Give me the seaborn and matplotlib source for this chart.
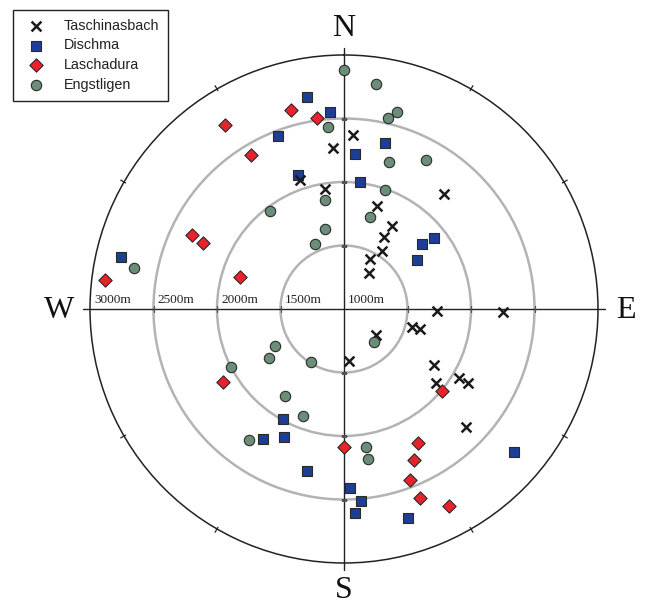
import numpy as np
import pandas as pd
import matplotlib
matplotlib.use("Agg")
import matplotlib.pyplot as plt
import seaborn as sns

# Aspect (degrees from north, clockwise) and elevation (m) of each site
tasch_az = [356, 341, 351, 3, 41, 18, 30, 29, 33, 28, 35, 91, 91, 105, 105, 129, 175, 122, 129, 121, 121, 134]
tasch_el = [2270, 2075, 1958, 2371, 2202, 1849, 1758, 1650, 1544, 1442, 1344, 1731, 2252, 1555, 1618,
            1327, 1412, 1835, 1931, 2058, 2138, 2333]

dischma_az = [350, 356, 339, 341, 283, 14, 4, 7, 52, 50, 56, 130, 178, 175, 177, 163, 209, 212, 205, 193]
dischma_el = [2692, 2557, 2460, 2112, 2803, 2348, 2220, 2004, 1902, 1800, 1695, 2747, 2410, 2514, 2606,
              2718, 1993, 2205, 2112, 2311]

lasch_az = [345, 352, 327, 329, 296, 295, 287, 277, 130, 180, 151, 155, 159, 158, 152, 239]
lasch_el = [2619, 2516, 2723, 2416, 2331, 2223, 1857, 2897, 2006, 2086, 2205, 2311, 2446, 2607, 2756, 2110]

engst_az = [0, 355, 350, 323, 347, 336, 281, 8, 15, 13, 17, 29, 19, 16, 138, 171, 171, 242, 237, 212,
            243, 214, 201, 216]
engst_el = [2885, 2435, 1870, 1968, 1650, 1560, 2688, 2786, 2609, 2546, 2209, 2339, 1990, 1755, 1350,
            2099, 2192, 1615, 1702, 1494, 2001, 1824, 1899, 2279]

ring_levels = [1500, 2000, 2500]
ring_labels = ["3000m", "2500m", "2000m", "1500m", "1000m"]
ring_label_values = [3000, 2500, 2000, 1500, 1000]
compass = ["N", "E", "S", "W"]

sns.set_theme(style="white")
plt.rcParams["font.family"] = ["Liberation Sans", "DejaVu Sans"]

W, H = 645, 604
fig = plt.figure(figsize=(W / 100, H / 100), dpi=100)
fig.patch.set_facecolor("white")

cx, cy, R = 344, 309, 254
ax = fig.add_axes([(cx - R) / W, (H - cy - R) / H, 2 * R / W, 2 * R / H], projection="polar")
ax.set_theta_zero_location("N")
ax.set_theta_direction(-1)
ax.set_facecolor("white")

series = [
    ("Dischma", dischma_az, dischma_el, dict(marker="s", color="#1d3e96", edgecolor="#2a2a2a", s=44, linewidth=0.8), 3),
    ("Taschinasbach", tasch_az, tasch_el, dict(marker="x", color="#1a1a1a", s=50, linewidth=1.8), 4),
    ("Laschadura", lasch_az, lasch_el, dict(marker="D", color="#e8222a", edgecolor="#2a2a2a", s=46, linewidth=0.8), 5),
    ("Engstligen", engst_az, engst_el, dict(marker="o", color="#6b8e78", edgecolor="#2a2a2a", s=56, linewidth=0.8), 6),
]

for name, az, el, style, z in series:
    df = pd.DataFrame({"theta": np.deg2rad(az), "elev": el})
    sns.scatterplot(data=df, x="theta", y="elev", ax=ax, label=name, zorder=z, clip_on=False, **style)

ax.set_ylim(1000, 3000)
ax.set_xlabel("")
ax.set_ylabel("")
ax.set_xticks([])
ax.set_yticks(ring_levels)
ax.set_yticklabels([])
ax.yaxis.grid(True, color="#b3b3b3", linewidth=1.8)
ax.xaxis.grid(False)
ax.spines["polar"].set_color("#222222")
ax.spines["polar"].set_linewidth(1.1)
ax.tick_params(length=0)

# cross through the centre, slightly overshooting the outer circle
for th in (0, 90, 180, 270):
    ax.plot([np.deg2rad(th)] * 2, [1000, 3055], color="#222222", lw=1.0, zorder=2, clip_on=False)
    mk = "_" if th in (0, 180) else "|"
    ax.plot([np.deg2rad(th)] * len(ring_levels), ring_levels, linestyle="none", marker=mk,
            markersize=5, markeredgewidth=0.9, color="#555555", zorder=2)

# short ticks on the outer circle every 30 degrees
for th in range(30, 360, 30):
    if th % 90 == 0:
        continue
    ax.plot([np.deg2rad(th)] * 2, [2985, 3030], color="#222222", lw=0.9, zorder=2, clip_on=False)

# elevation labels along the western axis
for txt, val in zip(ring_labels, ring_label_values):
    ax.annotate(txt, xy=(np.deg2rad(270), val), xytext=(4, 3), textcoords="offset pixels",
                ha="left", va="bottom", fontsize=9.5, family=["Liberation Serif", "DejaVu Serif"],
                color="#222222", zorder=7)

# compass letters
for txt, (px, py) in zip(compass, [(344, 28), (626, 310), (344, 591), (59, 310)]):
    fig.text(px / W, 1 - py / H, txt, ha="center", va="center", fontsize=23,
             family=["Liberation Serif", "DejaVu Serif"], color="#111111")

handles, labels = ax.get_legend_handles_labels()
order = ["Taschinasbach", "Dischma", "Laschadura", "Engstligen"]
hl = dict(zip(labels, handles))
if ax.get_legend() is not None:
    ax.get_legend().remove()
leg = fig.legend([hl[k] for k in order], order, loc="upper left",
                 bbox_to_anchor=(13 / W, 1 - 10 / H), borderaxespad=0, frameon=True, fancybox=False,
                 edgecolor="#222222", framealpha=1, fontsize=10.4, borderpad=0.6, labelspacing=0.4,
                 handlelength=2.0, handletextpad=0.9, scatterpoints=1)
leg.get_frame().set_linewidth(1.0)
for t in leg.get_texts():
    t.set_color("#222222")

fig.savefig("out.png", dpi=100, facecolor="white")
